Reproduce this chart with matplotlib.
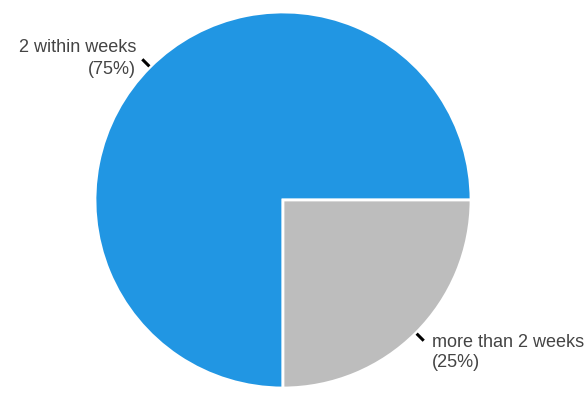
import numpy as np
import matplotlib.pyplot as plt

labels = ["2 within weeks", "more than 2 weeks"]
shares = [75, 25]
colors = ["#2196e3", "#bdbdbd"]

W, H = 585, 399
fig = plt.figure(figsize=(W / 100, H / 100), dpi=100)
ax = fig.add_axes([0, 0, 1, 1])

cx, cy, r = 283, 199, 188
wedges, _ = ax.pie(shares, colors=colors, startangle=0, counterclock=True,
                   center=(cx, cy), radius=r, frame=True,
                   wedgeprops=dict(edgecolor="white", linewidth=2))
ax.set_xlim(0, W)
ax.set_ylim(0, H)
ax.axis("off")

for w, lab, val in zip(wedges, labels, shares):
    mid = np.radians((w.theta1 + w.theta2) / 2)
    x0, y0 = cx + (r + 1) * np.cos(mid), cy + (r + 1) * np.sin(mid)
    x1, y1 = cx + (r + 11) * np.cos(mid), cy + (r + 11) * np.sin(mid)
    ax.plot([x0, x1], [y0, y1], color="black", lw=2.2, solid_capstyle="butt")
    txt = f"{lab}\n({val}%)"
    if np.cos(mid) < 0:
        ax.text(x1 - 6, y1 + 1, txt, ha="right", va="center", multialignment="right",
                fontsize=13, color="#444444", linespacing=1.35, family="Liberation Sans")
    else:
        ax.text(x1 + 8, y1 - 12, txt, ha="left", va="center", multialignment="left",
                fontsize=13, color="#444444", linespacing=1.2, family="Liberation Sans")

fig.savefig("out.png", dpi=100)
